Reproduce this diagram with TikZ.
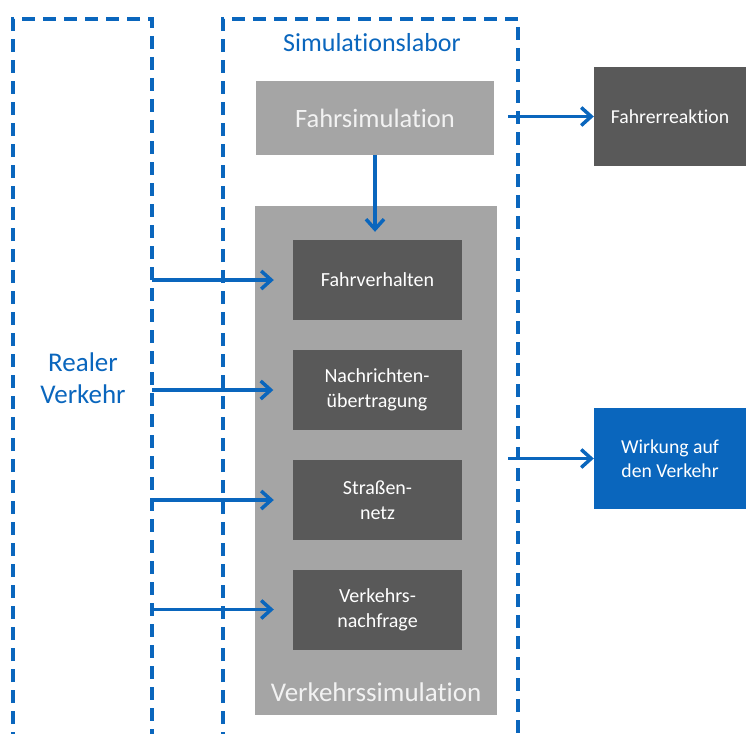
\documentclass[tikz,border=0pt]{standalone}
\usepackage{fontspec}
\setmainfont[Ligatures=NoCommon]{Carlito}
\usetikzlibrary{arrows.meta}
\definecolor{blau}{HTML}{0A66BD}
\definecolor{hellgrau}{HTML}{A5A5A5}
\definecolor{dunkelgrau}{HTML}{595959}
\begin{document}
\begin{tikzpicture}[x=1pt,y=-1pt,
	rahmen/.style={draw=blau,line width=3.3pt,dashed,dash pattern=on 13pt off 8pt},
	pfeil/.style={draw=blau,line width=3.5pt,-{Straight Barb[length=10pt,width=18pt,line width=3.5pt]}},
	modul/.style={fill=dunkelgrau,text=white,minimum width=169pt,minimum height=80pt,align=center,font=\fontsize{20}{25}\selectfont,inner sep=0pt},
	ergebnis/.style={text=white,minimum width=152pt,align=center,font=\fontsize{19.7}{23.5}\selectfont,inner sep=0pt}]
				\useasboundingbox (0,0) rectangle (746,733);
				% gestrichelte Rahmen
				\draw[rahmen] (13,745)--(13,19)--(152,19)--(152,745);
				\draw[rahmen] (223,745)--(223,19)--(518,19)--(518,745);
				\node[text=blau,font=\fontsize{26}{30}\selectfont] (lab) at (372,43) {Simulationslabor};
				\node[text=blau,align=center,font=\fontsize{27}{32}\selectfont] (rv) at (83,378) {Realer\\Verkehr};
				% Fahrsimulation und Verkehrssimulation
				\node[fill=hellgrau,text=white!95!black,minimum width=238pt,minimum height=74pt,inner sep=0pt,font=\fontsize{26.5}{30}\selectfont] (fs) at (375,118) {Fahrsimulation};
				\node[fill=hellgrau,minimum width=242pt,minimum height=509pt,inner sep=0pt] (vs) at (376,460.5) {};
				\node[text=white!95!black,font=\fontsize{27}{31}\selectfont] (vslab) at (376,692) {Verkehrssimulation};
				\node[modul] (fv) at (377.5,280) {Fahrverhalten};
				\node[modul] (nu) at (377,390) {Nachrichten-\\übertragung};
				\node[modul] (sn) at (377.5,500) {Straßen-\\netz};
				\node[modul] (vn) at (377.5,609.5) {Verkehrs-\\nachfrage};
				% Ergebnisse rechts
				\node[ergebnis,fill=dunkelgrau,minimum height=99pt] (fr) at (670,116.5) {Fahrerreaktion};
				\node[ergebnis,fill=blau,minimum height=101pt] (wk) at (670,458.5) {Wirkung auf\\den Verkehr};
				% Pfeile
				\coordinate (li) at (152,0);
				\coordinate (re) at (508,0);
				\foreach \m in {fv,nu,sn,vn}{
					\draw[pfeil] (li|-\m.west)--([xshift=-19pt]\m.west);
				};
				\coordinate[yshift=8pt] (dn) at (fv.north);
				\draw[pfeil] (fs.south)--(fs.south|-dn);
				\draw[pfeil] (re|-fr.west)--(fr.west);
				\draw[pfeil] (re|-wk.west)--(wk.west);
			\end{tikzpicture}
\end{document}
